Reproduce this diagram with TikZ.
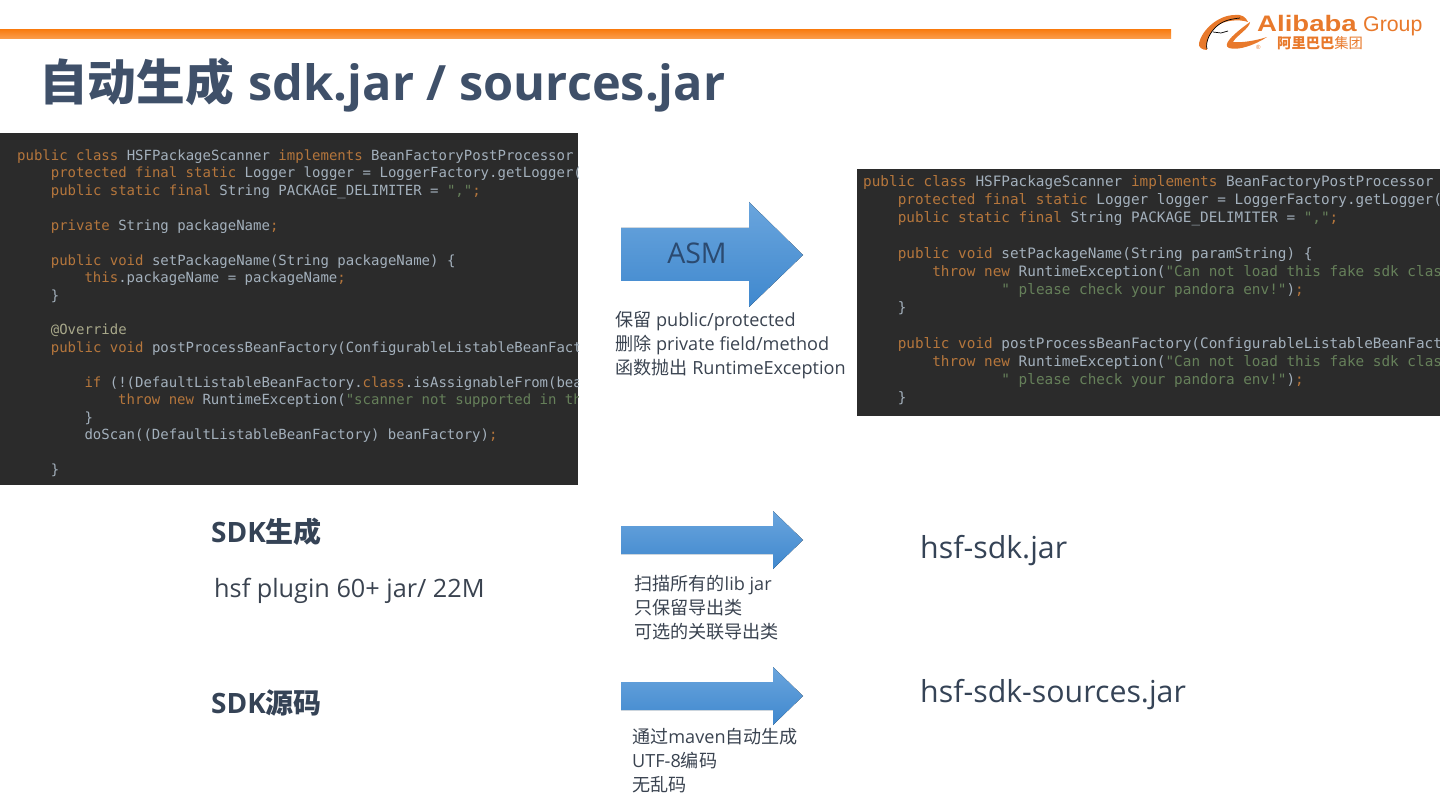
\documentclass[tikz,border=0pt]{standalone}
\usepackage{fontspec}
\setmainfont{Open Sans}
\setmonofont{DejaVu Sans Mono}
\newfontfamily\cjk{Noto Sans CJK SC}
\newfontfamily\logofont{Liberation Sans}
\usetikzlibrary{positioning}

\definecolor{barorange}{HTML}{F97E14}
\definecolor{titleblue}{HTML}{3F5069}
\definecolor{headgrey}{HTML}{354356}
\definecolor{bodygrey}{HTML}{3A4350}
\definecolor{asmblue}{HTML}{2B4A70}
\definecolor{codebg}{HTML}{2B2B2B}
\definecolor{codefg}{HTML}{A3B0BC}
\definecolor{codekey}{HTML}{B5763C}
\definecolor{codestr}{HTML}{66805A}
\definecolor{codeat}{HTML}{A8A88A}
\definecolor{logoorange}{HTML}{E8792B}
\definecolor{arrowtop}{HTML}{6AA5DD}
\definecolor{arrowbottom}{HTML}{3F88CE}

\newlength{\codechar}
\newcommand{\kw}[1]{\textcolor{codekey}{#1}}
\newcommand{\st}[1]{\textcolor{codestr}{#1}}
\newcommand{\tb}[1]{\hspace*{#1\dimexpr 4\codechar\relax}}

\tikzset{
    x=1pt, y=-1pt,
    codetext/.style={anchor=north west, inner sep=0pt, align=left, text=codefg},
    note/.style={anchor=north west, inner sep=0pt, align=left, text=bodygrey, font=\fontsize{18.1}{24}\selectfont},
    heading/.style={anchor=west, inner sep=0pt, text=headgrey, font=\fontsize{28}{32}\selectfont\bfseries},
    jarname/.style={anchor=west, inner sep=0pt, text=headgrey, font=\fontsize{30.3}{36}\selectfont},
    bluearrow/.style={top color=arrowtop, bottom color=arrowbottom},
    logotext/.style={anchor=base west, inner sep=0pt, text=logoorange},
}

\begin{document}
\begin{tikzpicture}
    \useasboundingbox (0,0) rectangle (1440,810);

    % Top bar
    \fill[top color=barorange, bottom color=barorange!75!white] (0,30) rectangle (1171,39);

    % Logo
    \fill[logoorange] (1199,43) .. controls (1202,30) and (1218,15) .. (1235,15)
        .. controls (1241,14) and (1246,17) .. (1248,22)
        .. controls (1240,19) and (1224,20) .. (1217,26)
        .. controls (1210,32) and (1205,42) .. (1207,50)
        .. controls (1202,50) and (1198,47) .. (1199,43) -- cycle;
    \fill[logoorange] (1250,22) .. controls (1250,28) and (1236,36) .. (1233,42)
        .. controls (1240,43) and (1255,41) .. (1267,37)
        .. controls (1255,45) and (1238,51) .. (1229,48)
        .. controls (1222,45) and (1232,35) .. (1250,22) -- cycle;
    \draw[black, line width=0.7pt] (1207,49) .. controls (1205,42) and (1210,32) .. (1217,26)
        .. controls (1224,20) and (1232,19) .. (1240,18);
    \draw[black, line width=0.7pt] (1213,32) -- (1221,33) -- (1228,31);
    \node[logotext, font=\logofont\fontsize{22.4}{26}\selectfont\bfseries] (logoname) at (1257,32) {\scalebox{1.23}[1]{Alibaba}};
    \node[logotext, font=\logofont\fontsize{21.3}{26}\selectfont] (logogroup) at (1363,32) {Group};
    \node[logotext, font=\cjk\fontsize{14.3}{18}\selectfont] (logocjk) at (1277,49) {\textbf{阿里巴巴}集团};
    \node[logotext, font=\logofont\fontsize{6}{7}\selectfont] (logomark) at (1256,50) {®};

    % Title
    \node[anchor=west, inner sep=0pt, text=titleblue, font=\fontsize{48.7}{54}\selectfont\bfseries] (title) at (39,85) {{\cjk 自动生成}\kern2pt{} sdk.jar / sources.jar};

    % Left code
    \fill[codebg] (0,133) rectangle (578,485);
    \begin{scope}
        \clip (0,133) rectangle (578,485);
        \setlength{\codechar}{8.42pt}
        \node[codetext, font=\ttfamily\fontsize{14}{17.45}\selectfont] (codeleft) at (17,149.5) {%
            \kw{public class} HSFPackageScanner \kw{implements} BeanFactoryPostProcessor\\
            \tb{1}\kw{protected final static} Logger logger = LoggerFactory.getLogger(\\
            \tb{1}\kw{public static final} String PACKAGE\_DELIMITER = \st{","}\kw{;}\\
            \mbox{}\\
            \tb{1}\kw{private} String packageName\kw{;}\\
            \mbox{}\\
            \tb{1}\kw{public void} setPackageName(String packageName) \{\\
            \tb{2}\kw{this}.packageName = packageName\kw{;}\\
            \tb{1}\}\\
            \mbox{}\\
            \tb{1}\textcolor{codeat}{@Override}\\
            \tb{1}\kw{public void} postProcessBeanFactory(ConfigurableListableBeanFact\\
            \mbox{}\\
            \tb{2}\kw{if} (!(DefaultListableBeanFactory.\kw{class}.isAssignableFrom(bea\\
            \tb{3}\kw{throw new} RuntimeException(\st{"scanner not supported in th}\\
            \tb{2}\}\\
            \tb{2}doScan((DefaultListableBeanFactory) beanFactory)\kw{;}\\
            \mbox{}\\
            \tb{1}\}};
    \end{scope}

    % Right code
    \fill[codebg] (857,169) rectangle (1440,416);
    \begin{scope}
        \clip (857,169) rectangle (1440,416);
        \setlength{\codechar}{8.64pt}
        \node[codetext, font=\ttfamily\fontsize{14.35}{18}\selectfont] (coderight) at (863,175.5) {%
            \kw{public class} HSFPackageScanner \kw{implements} BeanFactoryPostProcessor\\
            \tb{1}\kw{protected final static} Logger logger = LoggerFactory.getLogger(\\
            \tb{1}\kw{public static final} String PACKAGE\_DELIMITER = \st{","}\kw{;}\\
            \mbox{}\\
            \tb{1}\kw{public void} setPackageName(String paramString) \{\\
            \tb{2}\kw{throw new} RuntimeException(\st{"Can not load this fake sdk clas}\\
            \hspace*{16\codechar}\st{" please check your pandora env!"})\kw{;}\\
            \tb{1}\}\\
            \mbox{}\\
            \tb{1}\kw{public void} postProcessBeanFactory(ConfigurableListableBeanFact\\
            \tb{2}\kw{throw new} RuntimeException(\st{"Can not load this fake sdk clas}\\
            \hspace*{16\codechar}\st{" please check your pandora env!"})\kw{;}\\
            \tb{1}\}};
    \end{scope}

    % Arrows
    \fill[bluearrow] (621,228) -- (749,228) -- (749,202) -- (803,255) -- (749,307) -- (749,281) -- (621,281) -- cycle;
    \fill[bluearrow] (621,526) -- (773,526) -- (773,511) -- (803,540) -- (773,569) -- (773,554) -- (621,554) -- cycle;
    \fill[bluearrow] (621,682) -- (773,682) -- (773,667) -- (803,696) -- (773,725) -- (773,710) -- (621,710) -- cycle;

    % Labels
    \node[anchor=center, inner sep=0pt, text=asmblue, font=\fontsize{28.5}{32}\selectfont] (asm) at (697,253) {ASM};
    \node[note] (asmnote) at (615,311) {{\cjk 保留} public/protected\\{\cjk 删除} private field/method\\{\cjk 函数抛出} RuntimeException};
    \node[heading] (sdkhead) at (211,532) {SDK{\cjk 生成}};
    \node[anchor=west, inner sep=0pt, text=bodygrey, font=\fontsize{25.25}{30}\selectfont] (sdkinfo) at (214,591) {hsf plugin 60+ jar/ 22M};
    \node[note] (sdknote) at (634,575) {{\cjk 扫描所有的}lib jar\\{\cjk 只保留导出类}\\{\cjk 可选的关联导出类}};
    \node[jarname] (sdkjar) at (920,551) {hsf-sdk.jar};
    \node[heading] (srchead) at (211,703) {SDK{\cjk 源码}};
    \node[note] (srcnote) at (632,728) {{\cjk 通过}maven{\cjk 自动生成}\\UTF-8{\cjk 编码}\\{\cjk 无乱码}};
    \node[jarname] (srcjar) at (920,695) {hsf-sdk-sources.jar};
\end{tikzpicture}
\end{document}
